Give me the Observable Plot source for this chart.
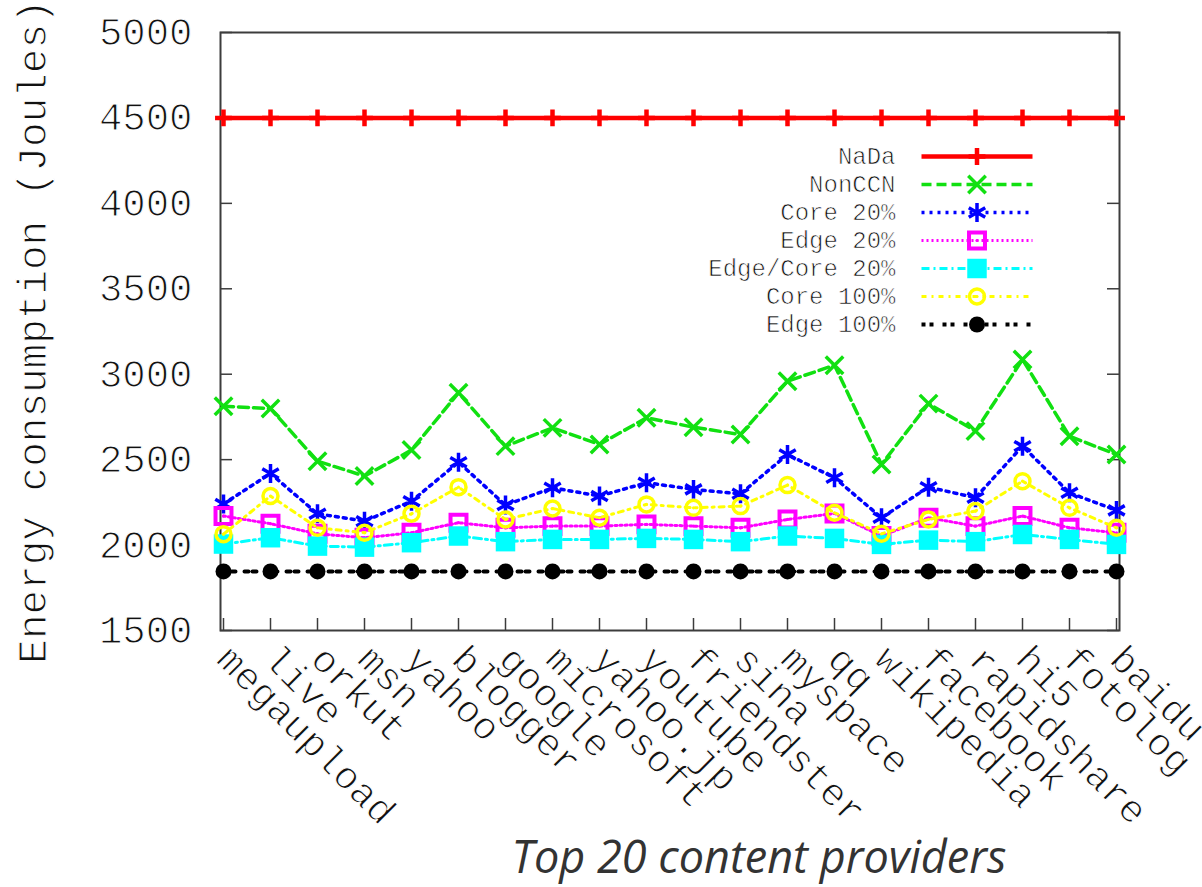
<!DOCTYPE html>
<html><head><meta charset="utf-8">
<script src="https://cdn.jsdelivr.net/npm/d3@7"></script>
<script src="https://cdn.jsdelivr.net/npm/@observablehq/plot@0.6"></script>
<style>
body{margin:0;background:#fff;}
#wrap{position:relative;width:1202px;height:887px;overflow:hidden;}
#wrap svg{position:absolute;left:0;top:0;}
#wrap svg text{paint-order:normal !important;}
#title{position:absolute;left:158px;width:1202px;top:833px;text-align:center;font-family:"Open Sans",sans-serif;font-style:italic;font-size:45px;line-height:45px;color:#333;}
</style></head><body><div id="wrap"><div id="title">Top 20 content providers</div></div>
<script>
const providers = ["megaupload","live","orkut","msn","yahoo","blogger","google","microsoft","yahoo.jp","youtube","friendster","sina","myspace","qq","wikipedia","facebook","rapidshare","hi5","fotolog","baidu"];
const seriesNames = ["NaDa","NonCCN","Core 20%","Edge 20%","Edge/Core 20%","Core 100%","Edge 100%"];
const nada =       [4500,4500,4500,4500,4500,4500,4500,4500,4500,4500,4500,4500,4500,4500,4500,4500,4500,4500,4500,4500];
const nonCCN =     [2813,2799,2491,2404,2556,2891,2579,2686,2589,2745,2690,2647,2959,3053,2472,2828,2667,3086,2637,2530];
const core20 =     [2241,2419,2183,2140,2257,2485,2234,2335,2287,2365,2326,2300,2530,2394,2160,2339,2277,2579,2306,2203];
const edge20 =     [2170,2125,2066,2043,2072,2131,2101,2111,2111,2121,2111,2101,2150,2185,2053,2160,2111,2170,2101,2072];
const edgeCore20 = [2006,2043,1994,1988,2014,2053,2020,2033,2033,2039,2033,2020,2053,2039,2004,2029,2020,2062,2033,2004];
const core100 =    [2064,2287,2101,2072,2183,2339,2150,2214,2160,2238,2218,2228,2351,2189,2066,2150,2199,2374,2218,2101];
const edge100 =    [1846,1846,1846,1846,1846,1846,1846,1846,1846,1846,1846,1846,1846,1846,1846,1846,1846,1846,1846,1846];
const yTicks = [1500,2000,2500,3000,3500,4000,4500,5000];
const yLabel = "Energy consumption (Joules)";

const valuesBySeries = [nada, nonCCN, core20, edge20, edgeCore20, core100, edge100];
const styles = [
  {color:"#ff0000", width:4.5, dash:null, symbol:"plus", r:5.5, sw:4.5, fill:"none"},
  {color:"#11e011", width:3.5, dash:"10,5", symbol:"times", r:8, sw:3.5, fill:"none"},
  {color:"#0000ff", width:3.5, dash:"3,5", symbol:"asterisk", r:9, sw:3.5, fill:"none"},
  {color:"#ff00ff", width:3, dash:"2,3", symbol:"square", r:9, sw:4, fill:"none", center:true},
  {color:"#00ffff", width:3, dash:"8,4,2,4", symbol:"square", r:11, sw:0, fill:"#00ffff"},
  {color:"#ffff00", width:3, dash:"5,5,2,5", symbol:"circle", r:7.5, sw:3.5, fill:"none", center:true},
  {color:"#000000", width:4, dash:"4,4,4,9", symbol:"circle", r:8, sw:0, fill:"#000000"}
];
const mono = "Liberation Mono, Courier New, monospace";
const tables = valuesBySeries.map(arr => providers.map((p,i)=>({provider:p, value:arr[i]})));

const W = 1202, H = 887, ML = 220, MR = 83, MT = 32, MB = 257;
const pw = W - ML - MR, ph = H - MT - MB;
const tickLen = 12;

const marks = [
  Plot.frame({stroke:"#3c3c3c", strokeWidth:2}),
  Plot.ruleY(yTicks, {y:d=>d, insetRight: pw - tickLen, stroke:"#3c3c3c", strokeWidth:1.5}),
  Plot.ruleY(yTicks, {y:d=>d, insetLeft: pw - tickLen, stroke:"#3c3c3c", strokeWidth:1.5}),
  Plot.ruleX(providers, {x:d=>d, insetTop: ph - tickLen, stroke:"#3c3c3c", strokeWidth:1.5}),
  Plot.axisY(yTicks, {tickSize:0, tickPadding:28, label:null, fontFamily:mono, fontSize:39, fill:"#111", tickFormat:d=>String(d), textStroke:"#fff", textStrokeWidth:1.1}),
  Plot.axisX({tickSize:0, tickRotate:45, tickPadding:22, label:null, fontFamily:mono, fontSize:39, fill:"#111", textStroke:"#fff", textStrokeWidth:1.1}),
  Plot.text([yLabel], {frameAnchor:"left", textAnchor:"middle", rotate:-90, dx:-188, text:d=>d, fontFamily:mono, fontSize:41, fill:"#111", stroke:"#fff", strokeWidth:1.1})
];
styles.forEach((s,k)=>{
  marks.push(Plot.line(tables[k], {x:"provider", y:"value", stroke:s.color, strokeWidth:s.width, strokeDasharray:s.dash}));
  marks.push(Plot.dot(tables[k], {x:"provider", y:"value", symbol:s.symbol, r:s.r, stroke:s.sw ? s.color : "none", strokeWidth:s.sw, fill:s.fill}));
  if (s.center) marks.push(Plot.dot(tables[k], {x:"provider", y:"value", r:1.6, fill:s.color}));
});

const chart = Plot.plot({
  width:W, height:H, marginLeft:ML, marginRight:MR, marginTop:MT, marginBottom:MB,
  style:{background:"transparent", overflow:"visible"},
  x:{type:"point", domain:providers, padding:0},
  y:{domain:[1500,5000]},
  marks
});

const legendMarks = [
  Plot.text(seriesNames, {x:()=>0, y:d=>d, text:d=>d, textAnchor:"end", dx:-26, fontFamily:mono, fontSize:24, fill:"#111", stroke:"#fff", strokeWidth:0.7})
];
styles.forEach((s,k)=>{
  legendMarks.push(Plot.link([seriesNames[k]], {x1:()=>0, x2:()=>1, y1:d=>d, y2:d=>d, stroke:s.color, strokeWidth:s.width, strokeDasharray:s.dash}));
  legendMarks.push(Plot.dot([seriesNames[k]], {x:()=>0.5, y:d=>d, symbol:s.symbol, r:s.r, stroke:s.sw ? s.color : "none", strokeWidth:s.sw, fill:s.fill}));
  if (s.center) legendMarks.push(Plot.dot([seriesNames[k]], {x:()=>0.5, y:d=>d, r:1.6, fill:s.color}));
});
const legend = Plot.plot({
  width:W, height:H, margin:0,
  style:{background:"transparent", overflow:"visible"},
  x:{type:"linear", domain:[0,1], range:[921,1032], axis:null},
  y:{type:"point", domain:seriesNames, range:[155,325], padding:0, axis:null},
  marks: legendMarks
});
const wrap = document.getElementById("wrap");
wrap.insertBefore(chart, wrap.firstChild);
wrap.insertBefore(legend, chart.nextSibling);
</script>
</body></html>
